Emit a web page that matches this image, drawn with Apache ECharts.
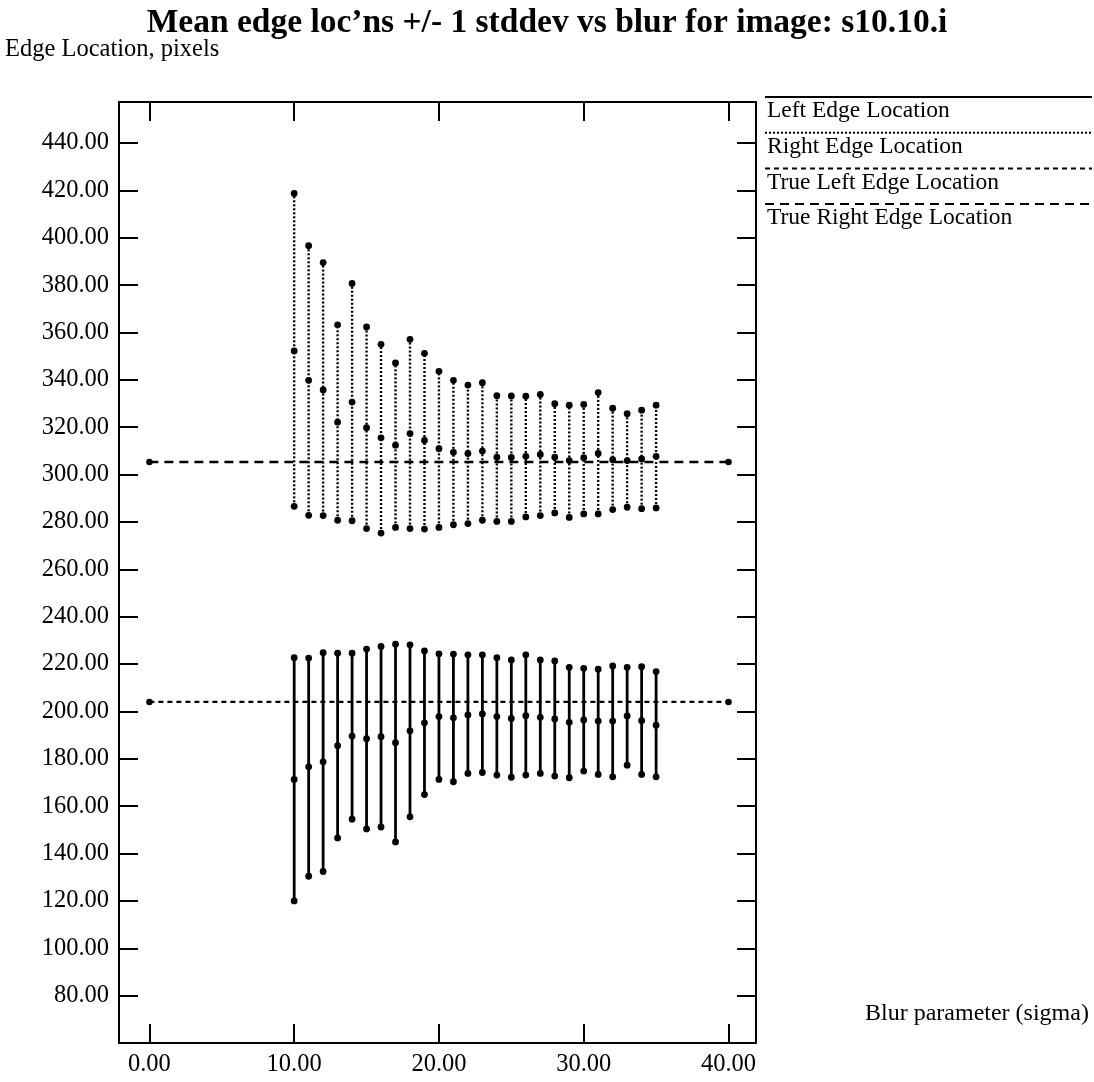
<!DOCTYPE html>
<html>
<head>
<meta charset="utf-8">
<title>Mean edge locations vs blur</title>
<script src="https://cdn.jsdelivr.net/npm/echarts@6/dist/echarts.min.js"></script>
<style>
  html, body { margin: 0; padding: 0; background: #fff; }
  #chart { width: 1094px; height: 1082px; }
</style>
</head>
<body>
<div id="chart"></div>
<script>
// Blur parameter (sigma) for each measured set
const sigma = [10, 11, 12, 13, 14, 15, 16, 17, 18, 19, 20, 21, 22, 23, 24, 25, 26, 27, 28, 29, 30, 31, 32, 33, 34, 35];

// Right edge: mean +/- 1 stddev
const rightHigh = [418.7, 396.6, 389.5, 363.2, 380.7, 362.3, 355.0, 347.1, 357.1, 351.2, 343.6, 339.8, 337.8, 338.8, 333.3, 333.2, 333.1, 333.8, 329.9, 329.3, 329.6, 334.6, 328.0, 325.7, 327.2, 329.3];
const rightMean = [352.2, 339.8, 335.7, 322.1, 330.6, 319.8, 315.5, 312.4, 317.3, 314.4, 310.9, 309.4, 308.9, 309.9, 307.3, 307.2, 307.7, 308.5, 307.3, 305.9, 307.1, 308.9, 306.3, 305.9, 306.6, 307.7];
const rightLow  = [286.6, 282.8, 282.7, 280.7, 280.5, 277.2, 275.3, 277.7, 277.2, 277.0, 277.7, 278.8, 279.3, 280.7, 280.2, 280.2, 282.1, 282.7, 283.8, 281.9, 283.4, 283.4, 285.2, 286.2, 285.6, 285.9];

// Left edge: mean +/- 1 stddev
const leftHigh = [222.7, 222.5, 224.8, 224.6, 224.6, 226.3, 227.4, 228.4, 228.1, 225.5, 224.3, 224.2, 223.9, 223.9, 222.7, 221.7, 223.9, 221.7, 221.3, 218.6, 218.2, 217.8, 219.2, 218.6, 218.9, 216.8];
const leftMean = [171.3, 176.6, 178.7, 185.5, 189.6, 188.5, 189.3, 186.8, 191.8, 195.2, 197.8, 197.3, 198.5, 198.9, 197.8, 197.0, 198.2, 197.5, 196.8, 195.4, 196.4, 195.9, 195.9, 198.1, 196.1, 194.2];
const leftLow  = [120.0, 130.4, 132.4, 146.6, 154.5, 150.4, 151.2, 144.9, 155.5, 164.9, 171.3, 170.3, 173.8, 174.2, 173.1, 172.2, 173.1, 173.8, 172.7, 172.0, 174.8, 173.4, 172.4, 177.3, 173.4, 172.4];

// True edge locations, drawn across the blur range
const trueSigma = [0, 40];
const trueLeft  = [204.0, 204.0];
const trueRight = [305.3, 305.3];

// Axis tick values
const xTicks = [0, 10, 20, 30, 40];
const yTicks = [80, 100, 120, 140, 160, 180, 200, 220, 240, 260, 280, 300, 320, 340, 360, 380, 400, 420, 440];

const legendNames = ['Left Edge Location', 'Right Edge Location', 'True Left Edge Location', 'True Right Edge Location'];

const FONT = '"Liberation Serif", "DejaVu Serif", serif';
const INK = '#000';

const dotted = [2, 2];
const shortDash = [5, 4];
const longDash = [9, 6];

function errorBars(lineDash, width) {
  return function (params, api) {
    const x = api.value(0);
    const lo = api.coord([x, api.value(1)]);
    const mid = api.coord([x, api.value(2)]);
    const hi = api.coord([x, api.value(3)]);
    const dot = (p) => ({ type: 'circle', shape: { cx: p[0], cy: p[1], r: 3.4 }, style: { fill: INK } });
    return {
      type: 'group',
      children: [
        { type: 'line', shape: { x1: lo[0], y1: lo[1], x2: hi[0], y2: hi[1] },
          style: { stroke: INK, lineWidth: width, lineDash: lineDash } },
        dot(lo), dot(mid), dot(hi)
      ]
    };
  };
}

const zip4 = (a, b, c, d) => a.map((v, i) => [v, b[i], c[i], d[i]]);
const zip2 = (a, b) => a.map((v, i) => [v, b[i]]);

const xBase = {
  type: 'value', min: -2.1, max: 41.9,
  axisLine: { show: true, onZero: false, lineStyle: { color: INK, width: 2 } },
  axisTick: { show: true, inside: true, length: 19, customValues: xTicks, lineStyle: { color: INK, width: 2 } },
  splitLine: { show: false }
};
const yBase = {
  type: 'value', min: 60, max: 457.3,
  axisLine: { show: true, onZero: false, lineStyle: { color: INK, width: 2 } },
  axisTick: { show: true, inside: true, length: 19, customValues: yTicks, lineStyle: { color: INK, width: 2 } },
  splitLine: { show: false }
};

// Legend: a line sample above each label, running to the right edge
const legendStyles = [
  { dash: null, width: 2 },
  { dash: dotted, width: 2 },
  { dash: shortDash, width: 2 },
  { dash: longDash, width: 2 }
];
const legendGraphics = [];
legendNames.forEach((name, i) => {
  const y0 = 97 + i * 35.7;
  legendGraphics.push({
    type: 'line', shape: { x1: 765, y1: y0, x2: 1092, y2: y0 },
    style: { stroke: INK, lineWidth: legendStyles[i].width, lineDash: legendStyles[i].dash }
  });
  legendGraphics.push({
    type: 'text', left: 767, top: y0 + 2,
    style: { text: name, fill: INK, font: '23.5px ' + FONT }
  });
});

const chart = echarts.init(document.getElementById('chart'), null, { renderer: 'canvas' });
chart.setOption({
  backgroundColor: '#fff',
  animation: false,
  title: [
    { text: 'Mean edge loc\u2019ns +/- 1 stddev vs blur for image: s10.10.i', left: 'center', top: 1,
      textStyle: { fontFamily: FONT, fontSize: 33.5, fontWeight: 'bold', color: INK } },
    { text: 'Edge Location, pixels', left: 0, top: 32,
      textStyle: { fontFamily: FONT, fontSize: 24.5, fontWeight: 'normal', color: INK } },
    { text: 'Blur parameter (sigma)', left: 860, top: 997,
      textStyle: { fontFamily: FONT, fontSize: 24, fontWeight: 'normal', color: INK } }
  ],
  grid: { left: 119, right: 338, top: 102, bottom: 39 },
  xAxis: [
    Object.assign({}, xBase, {
      position: 'bottom',
      axisLabel: { show: true, customValues: xTicks, margin: 9, color: INK,
        fontFamily: FONT, fontSize: 24.5, formatter: (v) => v.toFixed(2) }
    }),
    Object.assign({}, xBase, { position: 'top', axisLabel: { show: false } })
  ],
  yAxis: [
    Object.assign({}, yBase, {
      position: 'left',
      axisLabel: { show: true, customValues: yTicks, margin: 10, color: INK,
        fontFamily: FONT, fontSize: 24.5, formatter: (v) => v.toFixed(2) }
    }),
    Object.assign({}, yBase, { position: 'right', axisLabel: { show: false } })
  ],
  series: [
    {
      name: legendNames[0], type: 'custom', xAxisIndex: 0, yAxisIndex: 0,
      renderItem: errorBars(null, 2.8),
      encode: { x: 0, y: [1, 2, 3] },
      data: zip4(sigma, leftLow, leftMean, leftHigh)
    },
    {
      name: legendNames[1], type: 'custom', xAxisIndex: 0, yAxisIndex: 0,
      renderItem: errorBars(dotted, 2.4),
      encode: { x: 0, y: [1, 2, 3] },
      data: zip4(sigma, rightLow, rightMean, rightHigh)
    },
    {
      name: legendNames[2], type: 'line', xAxisIndex: 0, yAxisIndex: 0,
      symbol: 'circle', symbolSize: 6.5, itemStyle: { color: INK },
      lineStyle: { color: INK, width: 2.2, type: shortDash },
      data: zip2(trueSigma, trueLeft)
    },
    {
      name: legendNames[3], type: 'line', xAxisIndex: 0, yAxisIndex: 0,
      symbol: 'circle', symbolSize: 6.5, itemStyle: { color: INK },
      lineStyle: { color: INK, width: 2.4, type: longDash },
      data: zip2(trueSigma, trueRight)
    }
  ],
  graphic: legendGraphics
});
</script>
</body>
</html>
